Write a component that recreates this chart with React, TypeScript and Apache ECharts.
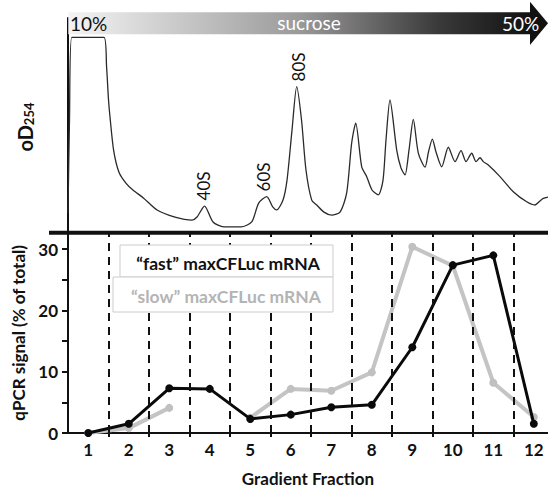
import React, { useEffect, useRef } from "react";
import * as echarts from "echarts";

// Bottom panel: qPCR signal (% of total) per gradient fraction
const fractions = [1, 2, 3, 4, 5, 6, 7, 8, 9, 10, 11, 12];
const fastSignal = [0, 1.5, 7.3, 7.2, 2.3, 3.0, 4.2, 4.6, 14.0, 27.4, 29.0, 1.5];
const slowSignal: (number | null)[] = [0, 0.8, 4.1, null, 2.5, 7.2, 6.9, 9.9, 30.4, 27.3, 8.2, 2.6];
const fractionBoundaries = [1.5, 2.5, 3.5, 4.5, 5.5, 6.5, 7.5, 8.5, 9.5, 10.5, 11.5];
const yTickValues = [0, 5, 10, 15, 20, 25, 30];
const yLabelValues = [0, 10, 20, 30];

// Top panel: OD254 trace (position along gradient in %, relative absorbance)
const tracePos = [
  0.0, 0.31, 0.77, 7.5, 8.04, 8.44, 8.75, 9.5, 10.6, 12.06, 13.52, 15.71, 18.54, 22.29, 25.83, 26.88,
  28.44, 30.21, 32.46, 36.04, 38.27, 39.73, 41.4, 42.65, 43.48, 44.79, 45.63, 46.67, 47.65, 48.65,
  49.58, 50.77, 51.81, 53.33, 54.94, 56.67, 58.06, 59.1, 59.94, 61.19, 62.23, 63.33, 64.65, 65.63,
  66.25, 67.08, 68.48, 69.38, 70.21, 71.04, 71.94, 72.98, 74.38, 75.1, 75.9, 76.67, 77.85, 79.23,
  80.63, 81.88, 82.92, 84.1, 85.0, 85.83, 86.52, 87.56, 90.0, 92.77, 95.56, 97.29, 98.33, 99.02, 100,
];
const traceOD = [
  0.092, 0.525, 0.91, 0.91, 0.772, 0.618, 0.539, 0.385, 0.283, 0.231, 0.199, 0.162, 0.106, 0.073, 0.059, 0.073,
  0.124, 0.05, 0.027, 0.027, 0.05, 0.138, 0.168, 0.12, 0.106, 0.152, 0.245, 0.478, 0.68, 0.525,
  0.292, 0.152, 0.129, 0.096, 0.082, 0.096, 0.185, 0.418, 0.51, 0.307, 0.261, 0.199, 0.176, 0.245,
  0.432, 0.618, 0.385, 0.301, 0.269, 0.385, 0.528, 0.371, 0.306, 0.376, 0.436, 0.376, 0.307, 0.398,
  0.331, 0.382, 0.331, 0.37, 0.331, 0.349, 0.331, 0.315, 0.261, 0.191, 0.144, 0.129, 0.148, 0.16, 0.166,
];

const peakLabels = [
  { text: "40S", x: 203, y: 186 },
  { text: "60S", x: 263, y: 177 },
  { text: "80S", x: 298, y: 67 },
];

const FONT = "Lato";

export default function App() {
  const ref = useRef<HTMLDivElement>(null);

  useEffect(() => {
    if (!ref.current) return;
    const chart = echarts.init(ref.current, undefined, { renderer: "svg" });

    const bold17 = { fontFamily: FONT, fontWeight: "bold" as const, fontSize: 17, color: "#111" };

    const option: any = {
      animation: false,
      backgroundColor: "#fff",
      grid: [
        { left: 68, top: 18, width: 480, height: 214.7 },
        { left: 68, top: 232.7, width: 480, height: 200.6 },
      ],
      xAxis: [
        { type: "value", gridIndex: 0, min: 0, max: 100, show: false },
        {
          type: "value",
          gridIndex: 1,
          min: 0.5,
          max: 12.35,
          splitLine: { show: false },
          axisLine: { show: true, onZero: false, lineStyle: { color: "#111", width: 2 } },
          axisTick: { show: true, customValues: fractionBoundaries, length: 4, lineStyle: { color: "#111", width: 2 } },
          axisLabel: { ...bold17, customValues: fractions, margin: 8 },
          name: "Gradient Fraction",
          nameLocation: "middle",
          nameGap: 37,
          nameTextStyle: { ...bold17 },
        },
      ],
      yAxis: [
        {
          type: "value",
          gridIndex: 0,
          min: 0,
          max: 1,
          splitLine: { show: false },
          axisLine: { show: true, onZero: false, lineStyle: { color: "#111", width: 2 } },
          axisTick: { show: false },
          axisLabel: { show: false },
        },
        {
          type: "value",
          gridIndex: 1,
          min: 0,
          max: 32.7,
          splitLine: { show: false },
          axisLine: { show: true, onZero: false, lineStyle: { color: "#111", width: 2 } },
          axisTick: { show: true, customValues: yTickValues, length: 6, lineStyle: { color: "#111", width: 2 } },
          axisLabel: { ...bold17, customValues: yLabelValues, margin: 10 },
          name: "qPCR signal (% of total)",
          nameLocation: "middle",
          nameRotate: 90,
          nameGap: 34,
          nameTextStyle: { ...bold17 },
        },
      ],
      series: [
        {
          type: "line",
          xAxisIndex: 0,
          yAxisIndex: 0,
          data: tracePos.map((p, i) => [p, traceOD[i]]),
          showSymbol: false,
          smooth: 0.25,
          lineStyle: { color: "#2a2a2a", width: 1.3 },
          z: 2,
        },
        {
          type: "line",
          xAxisIndex: 1,
          yAxisIndex: 1,
          data: [],
          z: 1,
          markLine: {
            silent: true,
            symbol: ["none", "none"],
            label: { show: false },
            lineStyle: { color: "#111", width: 2, type: [8, 6] },
            data: fractionBoundaries.map((b) => ({ xAxis: b })),
          },
        },
        {
          name: "slow",
          type: "line",
          xAxisIndex: 1,
          yAxisIndex: 1,
          data: fractions.map((f, i) => [f, slowSignal[i]]),
          connectNulls: false,
          symbol: "circle",
          symbolSize: 8,
          lineStyle: { color: "#c4c4c4", width: 4 },
          itemStyle: { color: "#c0c0c0" },
          z: 3,
        },
        {
          name: "fast",
          type: "line",
          xAxisIndex: 1,
          yAxisIndex: 1,
          data: fractions.map((f, i) => [f, fastSignal[i]]),
          symbol: "circle",
          symbolSize: 8,
          lineStyle: { color: "#0a0a0a", width: 3 },
          itemStyle: { color: "#0a0a0a" },
          z: 4,
        },
      ],
      graphic: [
        // gradient bar
        {
          type: "rect",
          shape: { x: 68.3, y: 12.3, width: 462, height: 22 },
          style: {
            fill: new echarts.graphic.LinearGradient(0, 0, 1, 0, [
              { offset: 0, color: "#f4f4f4" },
              { offset: 0.5, color: "#9a9a9a" },
              { offset: 0.8, color: "#3a3a3a" },
              { offset: 1, color: "#111" },
            ]),
          },
          z: 10,
        },
        {
          type: "polygon",
          shape: { points: [[530, 1.7], [548, 23.3], [530, 45]] },
          style: { fill: "#111" },
          z: 10,
        },
        { type: "text", x: 70, y: 23, z: 11, style: { text: "10%", fill: "#111", font: `19px ${FONT}`, verticalAlign: "middle" } },
        { type: "text", x: 309, y: 22, z: 11, style: { text: "sucrose", fill: "#fff", font: `19px ${FONT}`, align: "center", verticalAlign: "middle" } },
        { type: "text", x: 502, y: 23, z: 11, style: { text: "50%", fill: "#fff", font: `19px ${FONT}`, verticalAlign: "middle" } },
        // peak labels
        ...peakLabels.map((p) => ({
          type: "text",
          x: p.x,
          y: p.y,
          rotation: Math.PI / 2,
          z: 11,
          style: { text: p.text, fill: "#111", font: `17px ${FONT}`, align: "center", verticalAlign: "middle" },
        })),
        // OD254 axis label
        {
          type: "text",
          x: 25,
          y: 127,
          rotation: Math.PI / 2,
          z: 11,
          style: {
            text: "{a|oD}{b|254}",
            align: "center",
            verticalAlign: "middle",
            rich: {
              a: { fontFamily: FONT, fontWeight: "bold", fontSize: 20, fill: "#111", color: "#111" },
              b: { fontFamily: FONT, fontWeight: "bold", fontSize: 13, fill: "#111", color: "#111", verticalAlign: "bottom", padding: [7, 0, 0, 0] },
            },
          },
        },
        // thick separator line
        {
          type: "line",
          shape: { x1: 49, y1: 232.7, x2: 548, y2: 232.7 },
          style: { stroke: "#111", lineWidth: 4 },
          z: 12,
        },
        // legend boxes
        {
          type: "rect",
          shape: { x: 120, y: 245, width: 213, height: 32 },
          style: { fill: "#fff", stroke: "#cccccc", lineWidth: 1 },
          z: 20,
        },
        {
          type: "rect",
          shape: { x: 113, y: 277, width: 220, height: 35 },
          style: { fill: "#fff", stroke: "#cccccc", lineWidth: 1 },
          z: 20,
        },
        { type: "text", x: 228, y: 263, z: 21, style: { text: "\u201cfast\u201d maxCFLuc mRNA", fill: "#111", font: `bold 17.5px ${FONT}`, align: "center", verticalAlign: "middle" } },
        { type: "text", x: 226, y: 296, z: 21, style: { text: "\u201cslow\u201d maxCFLuc mRNA", fill: "#b4b4b4", font: `bold 17.5px ${FONT}`, align: "center", verticalAlign: "middle" } },
      ],
    };

    chart.setOption(option);
    return () => chart.dispose();
  }, []);

  return <div ref={ref} style={{ position: "fixed", left: 0, top: 0, width: 548, height: 488 }} />;
}
